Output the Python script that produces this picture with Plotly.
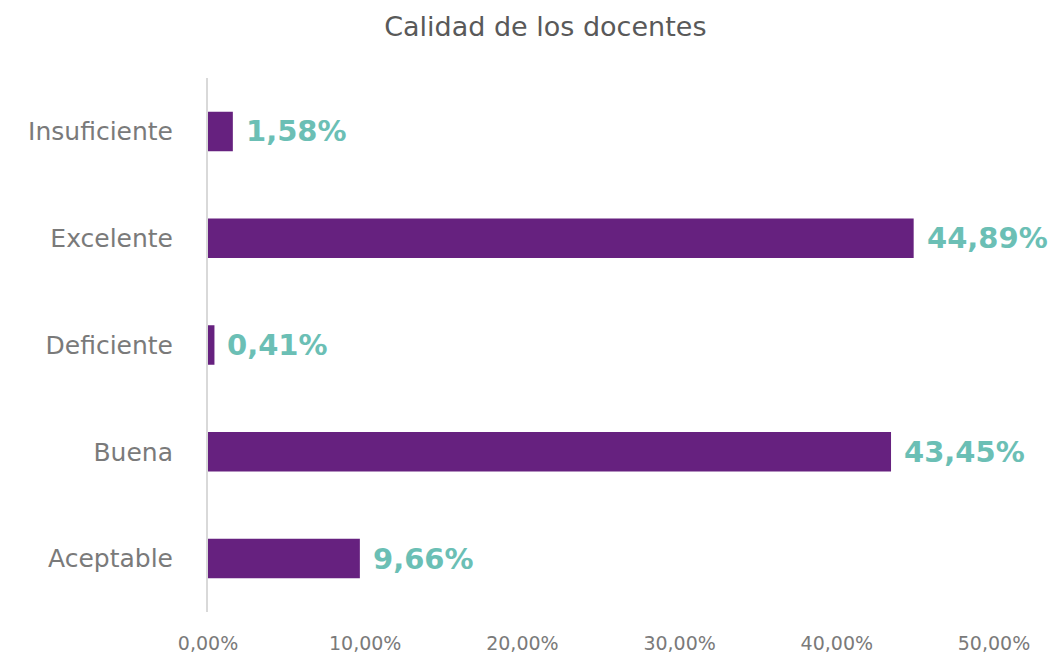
import plotly.graph_objects as go

# --- datos ---
categorias = ["Aceptable", "Buena", "Deficiente", "Excelente", "Insuficiente"]
valores = [0.0966, 0.4345, 0.0041, 0.4489, 0.0158]
ticks_x = [0, 0.1, 0.2, 0.3, 0.4, 0.5]

MORADO = "#66217f"
TURQUESA = "#6bbfb5"
GRIS = "#7a7a7a"
FUENTE = "DejaVu Sans"


def fmt_pct(v):
    return f"{v * 100:.2f}%".replace(".", ",")


fig = go.Figure()
fig.add_trace(go.Bar(
    x=valores,
    y=categorias,
    orientation="h",
    marker=dict(color=MORADO, line=dict(width=0)),
    width=0.37,
    hoverinfo="x+y",
))

# etiquetas de valor a la derecha de cada barra
for v, c in zip(valores, categorias):
    fig.add_annotation(
        x=v, y=c, text=fmt_pct(v), showarrow=False,
        xanchor="left", yanchor="middle", xshift=11,
        font=dict(family=FUENTE, size=29, color=TURQUESA, weight="bold"),
    )

fig.update_layout(
    width=1064, height=658,
    paper_bgcolor="white", plot_bgcolor="white",
    separators=",.",
    showlegend=False,
    margin=dict(l=200, r=78, t=70, b=50),
    title=dict(text="Calidad de los docentes", x=0.505, xanchor="center",
               y=0.972, yanchor="middle",
               font=dict(family=FUENTE, size=27, color="#595959")),
    font=dict(family=FUENTE, color=GRIS),
)
fig.update_xaxes(
    range=[0, 0.5], tickvals=ticks_x, tickformat=".2%",
    showgrid=False, zeroline=False, showline=False,
    tickfont=dict(size=19, color=GRIS), ticks="", ticklabelstandoff=18,
)
fig.update_yaxes(
    categoryorder="array", categoryarray=categorias,
    showgrid=False, zeroline=False, showline=True, linecolor="#d9d9d9", linewidth=2,
    tickfont=dict(size=25, color=GRIS), ticks="", ticklabelstandoff=28,
)

fig.write_html("out.html")
